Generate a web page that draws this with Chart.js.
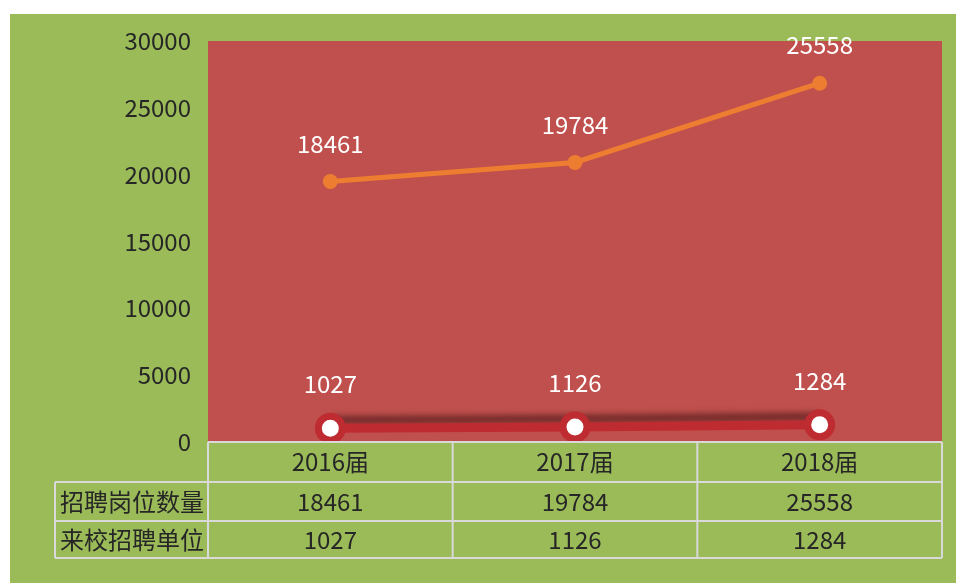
<!DOCTYPE html>
<html>
<head>
<meta charset="utf-8">
<script src="https://cdn.jsdelivr.net/npm/chart.js@4"></script>
<style>
  html, body { margin: 0; padding: 0; background: #ffffff; }
  #box { position: absolute; left: 10px; top: 14px; width: 946px; height: 569px; background: #9bbb59; }
  canvas { display: block; }
</style>
</head>
<body>
<div id="box"><canvas id="chart" width="946" height="569"></canvas></div>
<script>
// 数据
const categories = ['2016届', '2017届', '2018届'];
const seriesNames = ['招聘岗位数量', '来校招聘单位'];
const jobs = [18461, 19784, 25558];
const companies = [1027, 1126, 1284];
const yTicks = [0, 5000, 10000, 15000, 20000, 25000, 30000];

const FONT = '"Noto Sans CJK SC", "Noto Sans", sans-serif';

// 绘图区背景
const plotBg = {
    id: 'plotBg',
    beforeDraw(chart) {
        const { ctx, chartArea: a } = chart;
        ctx.save();
        ctx.fillStyle = '#c0504d';
        ctx.fillRect(a.left, a.top, a.right - a.left, a.bottom - a.top);
        ctx.restore();
    }
};

// 红线上方的阴影
const lineShadow = {
    id: 'lineShadow',
    beforeDatasetsDraw(chart) {
        const meta = chart.getDatasetMeta(0);
        const ctx = chart.ctx;
        ctx.save();
        ctx.filter = 'blur(3px)';
        ctx.strokeStyle = 'rgba(80, 25, 25, 0.75)';
        ctx.lineWidth = 8;
        ctx.beginPath();
        meta.data.forEach((p, i) => {
            if (i === 0) ctx.moveTo(p.x, p.y - 8);
            else ctx.lineTo(p.x, p.y - 8);
        });
        ctx.stroke();
        ctx.restore();
    }
};

// 数据标签
const valueLabels = {
    id: 'valueLabels',
    afterDatasetsDraw(chart) {
        const ctx = chart.ctx;
        ctx.save();
        ctx.font = '24px ' + FONT;
        ctx.fillStyle = '#ffffff';
        ctx.textAlign = 'center';
        ctx.textBaseline = 'middle';
        chart.getDatasetMeta(1).data.forEach((p, i) => {
            ctx.fillText(String(jobs[i]), p.x, p.y - 38);
        });
        chart.getDatasetMeta(0).data.forEach((p, i) => {
            ctx.fillText(String(companies[i]), p.x, p.y - 44);
        });
        ctx.restore();
    }
};

// 底部数据表
const dataTable = {
    id: 'dataTable',
    afterDraw(chart) {
        const { ctx, chartArea: a } = chart;
        const x = chart.scales.x;
        const rows = [40, 39, 37];
        const labelLeft = 45;
        const top = a.bottom;
        const half = (x.getPixelForValue(1) - x.getPixelForValue(0)) / 2;
        const cols = [a.left];
        categories.forEach((c, i) => cols.push(x.getPixelForValue(i) + half));
        const ys = [top];
        rows.forEach(h => ys.push(ys[ys.length - 1] + h));
        const mid = r => (ys[r] + ys[r + 1]) / 2;

        ctx.save();
        ctx.strokeStyle = '#d9d9d9';
        ctx.lineWidth = 2;
        ctx.beginPath();
        // 横线
        ctx.moveTo(a.left, ys[0]); ctx.lineTo(a.right, ys[0]);
        for (let r = 1; r <= 3; r++) {
            ctx.moveTo(labelLeft, ys[r]);
            ctx.lineTo(a.right, ys[r]);
        }
        // 竖线
        cols.forEach(cx => { ctx.moveTo(cx, ys[0]); ctx.lineTo(cx, ys[3]); });
        ctx.moveTo(labelLeft, ys[1]); ctx.lineTo(labelLeft, ys[3]);
        ctx.stroke();

        ctx.fillStyle = '#262626';
        ctx.font = '24px ' + FONT;
        ctx.textBaseline = 'middle';
        ctx.textAlign = 'center';
        categories.forEach((c, i) => {
            const cx = x.getPixelForValue(i);
            ctx.fillText(c, cx, mid(0));
            ctx.fillText(String(jobs[i]), cx, mid(1));
            ctx.fillText(String(companies[i]), cx, mid(2));
        });
        ctx.textAlign = 'left';
        ctx.fillText(seriesNames[0], labelLeft + 5, mid(1));
        ctx.fillText(seriesNames[1], labelLeft + 5, mid(2));
        ctx.restore();
    }
};

new Chart(document.getElementById('chart'), {
    type: 'line',
    data: {
        labels: categories,
        datasets: [{
            label: seriesNames[1],
            data: companies,
            borderColor: '#be2b30',
            borderWidth: 9,
            pointRadius: 12,
            pointBorderWidth: 7,
            pointBorderColor: '#be2b30',
            pointBackgroundColor: '#ffffff',
            tension: 0,
            stack: 's'
        }, {
            label: seriesNames[0],
            data: jobs,
            borderColor: '#ed7d31',
            borderWidth: 5,
            pointRadius: 7.5,
            pointBorderWidth: 0,
            pointBackgroundColor: '#ed7d31',
            tension: 0,
            stack: 's'
        }]
    },
    options: {
        responsive: false,
        animation: false,
        layout: { autoPadding: false, padding: { left: 0, top: 27, right: 14, bottom: 141 } },
        plugins: {
            legend: { display: false },
            tooltip: { enabled: false }
        },
        scales: {
            x: {
                display: false,
                offset: true
            },
            y: {
                stacked: true,
                min: 0,
                max: 30000,
                afterFit(scale) { scale.width = 198; },
                afterBuildTicks(scale) { scale.ticks = yTicks.map(v => ({ value: v })); },
                grid: { display: false },
                border: { display: false },
                ticks: {
                    padding: 9,
                    color: '#262626',
                    font: { size: 24, family: FONT },
                    callback: v => String(v)
                }
            }
        }
    },
    plugins: [plotBg, lineShadow, valueLabels, dataTable]
});
</script>
</body>
</html>
